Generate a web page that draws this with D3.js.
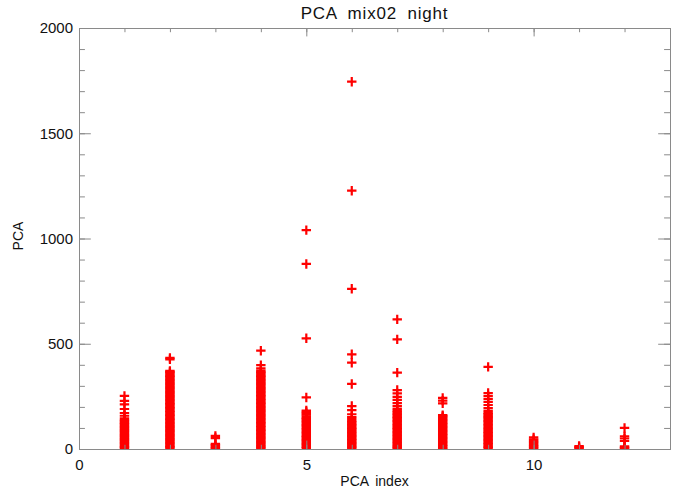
<!DOCTYPE html>
<html>
<head>
<meta charset="utf-8">
<script src="https://cdn.jsdelivr.net/npm/d3@7"></script>
<style>
  body { margin: 0; background: #fff; }
  text { font-family: "Liberation Sans", Arial, sans-serif; fill: #111; }
</style>
</head>
<body>
<div class="viz"></div>
<script>
var w = 682;
var h = 493;
var margin = {left: 79, right: 12, top: 28, bottom: 44};

// PCA values per index
var idx1 = [252, 229, 212, 190, 171, 158, 146, 137, 131, 124, 118, 111, 105, 98, 92, 86, 79, 73, 66, 60, 54, 47, 41, 35, 28, 22, 15, 9, 4];
var idx2 = [433, 426, 371, 366, 360, 353, 347, 341, 334, 328, 321, 315, 309, 302, 296, 290, 283, 277, 270, 264, 258, 251, 245, 239, 232, 226, 219, 213, 207, 200, 194, 188, 181, 175, 168, 162, 156, 149, 143, 137, 130, 124, 117, 111, 105, 98, 92, 86, 79, 73, 66, 60, 54, 47, 41, 35, 28, 22, 15, 9, 3];
var idx3 = [62, 52, 24, 18, 12, 6, 2];
var idx4 = [467, 398, 383, 372, 366, 360, 353, 347, 341, 334, 328, 321, 315, 309, 302, 296, 289, 283, 277, 270, 264, 257, 251, 245, 238, 232, 225, 219, 213, 206, 200, 193, 187, 181, 174, 168, 161, 155, 149, 142, 136, 129, 123, 117, 110, 104, 97, 91, 85, 78, 72, 65, 59, 53, 46, 40, 33, 27, 21, 14, 8, 3];
var idx5 = [1040, 879, 526, 245, 183, 176, 169, 163, 155, 148, 142, 135, 129, 121, 115, 108, 102, 95, 88, 82, 76, 69, 62, 56, 49, 43, 36, 30, 23, 17, 10, 4];
var idx6 = [1745, 1227, 761, 450, 410, 309, 204, 185, 165, 152, 143, 133, 127, 120, 114, 107, 100, 94, 88, 81, 74, 68, 61, 55, 48, 42, 35, 29, 22, 16, 9, 3];
var idx7 = [616, 521, 363, 280, 264, 248, 233, 218, 204, 191, 181, 174, 167, 160, 153, 147, 140, 133, 127, 120, 113, 107, 100, 94, 87, 80, 74, 67, 60, 54, 47, 41, 34, 27, 21, 14, 8, 3];
var idx8 = [243, 230, 217, 161, 156, 150, 144, 137, 131, 124, 118, 111, 105, 98, 92, 85, 79, 72, 66, 59, 53, 46, 40, 33, 27, 20, 14, 7, 2];
var idx9 = [390, 266, 252, 238, 224, 209, 194, 181, 172, 166, 159, 153, 146, 140, 133, 127, 120, 114, 107, 101, 94, 88, 81, 75, 68, 62, 55, 49, 42, 36, 29, 23, 16, 10, 4];
var idx10 = [55, 46, 40, 33, 27, 20, 14, 8, 3];
var idx11 = [14, 10, 6, 2];
var idx12 = [100, 60, 50, 38, 12, 7, 3];

var columns = [idx1, idx2, idx3, idx4, idx5, idx6, idx7, idx8, idx9, idx10, idx11, idx12];

var xTicks = [0, 5, 10];
var yTicks = [0, 500, 1000, 1500, 2000];

var dataset = [];
columns.forEach(function (col, i) {
  col.forEach(function (v) { dataset.push([i + 1, v]); });
});

var pw = w - margin.left - margin.right;
var ph = h - margin.top - margin.bottom;

var x = d3.scaleLinear().domain([0, 13]).range([margin.left, margin.left + pw]);
var y = d3.scaleLinear().domain([0, 2000]).range([margin.top + ph, margin.top]);

var svg = d3.select('.viz')
            .append('svg')
            .attr('width', w)
            .attr('height', h);

svg.append('defs').append('clipPath').attr('id', 'clip')
   .append('rect')
   .attr('x', margin.left).attr('y', margin.top)
   .attr('width', pw).attr('height', ph);

// points: plus signs
var arm = 4.7;
svg.append('g')
   .attr('clip-path', 'url(#clip)')
   .selectAll('path')
   .data(dataset)
   .enter()
   .append('path')
   .attr('d', function (d) {
     var cx = x(d[0]), cy = y(d[1]);
     return 'M' + (cx - arm) + ',' + cy + 'H' + (cx + arm) + 'M' + cx + ',' + (cy - arm) + 'V' + (cy + arm);
   })
   .attr('stroke', '#ff0000')
   .attr('stroke-width', 2.2)
   .attr('fill', 'none');

// axes, ticks inward on all sides (IDL style)
var axisColor = '#8a8a8a';
var xLen = ph * 0.02, yLen = pw * 0.02;

function addAxis(axis, tr) {
  var g = svg.append('g').attr('transform', tr).call(axis);
  g.select('.domain').attr('stroke', axisColor);
  g.selectAll('.tick line').attr('stroke', axisColor);
  return g;
}

var xMinor = d3.range(0, 14, 1);
var yMinor = d3.range(0, 2001, 100);

addAxis(d3.axisBottom(x).tickValues(xMinor).tickSize(-xLen / 2).tickFormat(''), 'translate(0,' + (margin.top + ph) + ')');
addAxis(d3.axisTop(x).tickValues(xMinor).tickSize(-xLen / 2).tickFormat(''), 'translate(0,' + margin.top + ')');
addAxis(d3.axisLeft(y).tickValues(yMinor).tickSize(-yLen / 2).tickFormat(''), 'translate(' + margin.left + ',0)');
addAxis(d3.axisRight(y).tickValues(yMinor).tickSize(-yLen / 2).tickFormat(''), 'translate(' + (margin.left + pw) + ',0)');

var xb = addAxis(d3.axisBottom(x).tickValues(xTicks).tickSize(-xLen).tickPadding(10).tickFormat(d3.format('d')), 'translate(0,' + (margin.top + ph) + ')');
addAxis(d3.axisTop(x).tickValues(xTicks).tickSize(-xLen).tickFormat(''), 'translate(0,' + margin.top + ')');
var yl = addAxis(d3.axisLeft(y).tickValues(yTicks).tickSize(-yLen).tickPadding(6).tickFormat(d3.format('d')), 'translate(' + margin.left + ',0)');
addAxis(d3.axisRight(y).tickValues(yTicks).tickSize(-yLen).tickFormat(''), 'translate(' + (margin.left + pw) + ',0)');

xb.selectAll('text').attr('font-size', 15).style('font-family', '"Liberation Sans", Arial, sans-serif').attr('fill', '#111');
yl.selectAll('text').attr('font-size', 15).style('font-family', '"Liberation Sans", Arial, sans-serif').attr('fill', '#111');

// titles
svg.append('text')
   .attr('x', margin.left + pw / 2)
   .attr('y', 19)
   .attr('text-anchor', 'middle')
   .attr('font-size', 17)
   .style('letter-spacing', '0.8px')
   .style('word-spacing', '5px')
   .text('PCA mix02 night');

svg.append('text')
   .attr('x', margin.left + pw / 2)
   .attr('y', 486)
   .attr('text-anchor', 'middle')
   .attr('font-size', 14)
   .style('word-spacing', '3px')
   .text('PCA index');

svg.append('text')
   .attr('transform', 'translate(23,' + 236 + ') rotate(-90)')
   .attr('text-anchor', 'middle')
   .attr('font-size', 14)
   .text('PCA');
</script>
</body>
</html>
